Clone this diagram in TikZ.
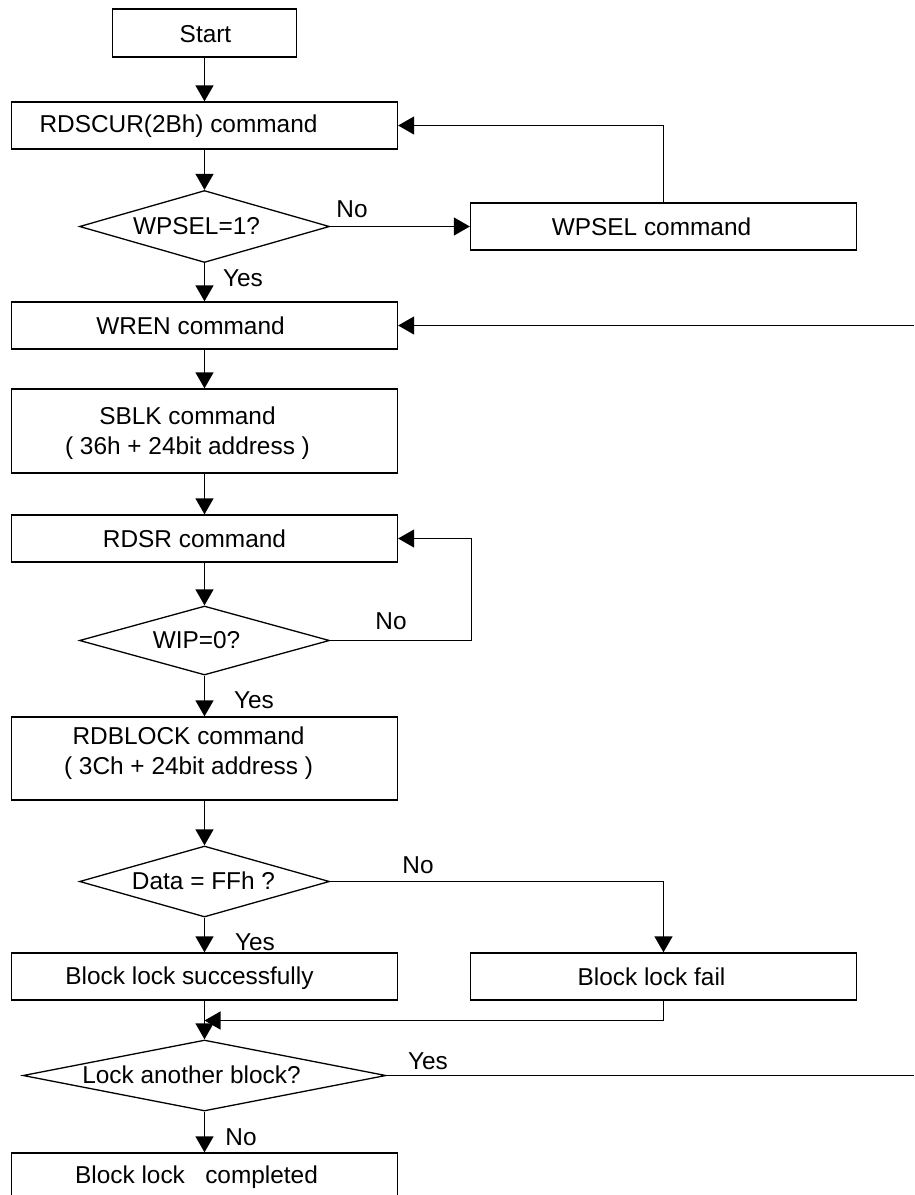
\documentclass[tikz,border=0pt]{standalone}
\usepackage{fontspec}
\setmainfont{Liberation Sans}
\usetikzlibrary{shapes.geometric,arrows.meta}
\tikzset{
  lw/.style={line width=1.3pt},
  box/.style={draw, lw, minimum width=386pt, minimum height=47pt, inner sep=0pt},
  dia/.style={draw, lw, diamond, inner sep=0pt},
  txt/.style={inner sep=0pt, align=center, font=\fontsize{24.4}{30}\selectfont},
  arr/.style={lw, -{Triangle[width=18pt,length=16pt]}},
}
\begin{document}
\begin{tikzpicture}[x=1pt, y=-1pt]
\useasboundingbox (0,0) rectangle (914,1195);
\clip (0,0) rectangle (914,1195);
% nodes
\node[box, minimum width=184pt, minimum height=48pt,
      label={[txt, xshift=1pt, yshift=-1pt]center:Start}] (start) at (204.5,33) {};
\node[box, label={[txt, xshift=-26pt, yshift=-1pt]center:RDSCUR(2Bh) command}] (rdscur) at (204.5,125.5) {};
\node[dia, minimum width=250pt, minimum height=72pt,
      label={[txt, xshift=-8pt]center:WPSEL=1?}] (wpsel) at (204.5,226.5) {};
\node[box, label={[txt, xshift=-12pt]center:WPSEL command}] (wpselcmd) at (663.5,226.5) {};
\node[box, label={[txt, xshift=-14pt]center:WREN command}] (wren) at (204.5,325.5) {};
\node[box, minimum height=84pt,
      label={[txt, xshift=-17pt, yshift=-2pt]center:SBLK command\\( 36h + 24bit address )}] (sblk) at (204.5,431) {};
\node[box, label={[txt, xshift=-10pt]center:RDSR command}] (rdsr) at (204.5,538.5) {};
\node[dia, minimum width=250pt, minimum height=69pt,
      label={[txt, xshift=-8pt]center:WIP=0?}] (wip) at (204.5,640.5) {};
\node[box, minimum height=83pt,
      label={[txt, xshift=-16pt, yshift=5pt]center:RDBLOCK command\\( 3Ch + 24bit address )}] (rdblock) at (204.5,758.5) {};
\node[dia, minimum width=250pt, minimum height=71pt,
      label={[txt, xshift=-1pt, yshift=1pt]center:Data = FFh ?}] (data) at (204.5,881.5) {};
\node[box, label={[txt, xshift=-15pt, yshift=-2pt]center:Block lock successfully}] (succ) at (204.5,976.5) {};
\node[box, label={[txt, xshift=-12pt]center:Block lock fail}] (fail) at (663.5,976.5) {};
\node[dia, minimum width=363pt, minimum height=71pt,
      label={[txt, xshift=-13pt, yshift=1pt]center:Lock another block?}] (lock) at (204.5,1075.5) {};
\node[box, label={[txt, xshift=-8pt, yshift=-0.5pt]center:Block lock\ \ \ completed}] (done) at (204.5,1176.5) {};
% free ends
\coordinate (in1) at (914,325.5);
\coordinate (out1) at (914,1075.5);
\coordinate (wipr) at (471.5,640.5);
\coordinate (merge) at (204.5,1020.5);
% connectors
\draw[arr] (start.south) -- (start.south |- rdscur.north);
\draw[arr] (rdscur.south) -- (rdscur.south |- wpsel.north);
\draw[arr] (wpsel.east) -- (wpselcmd.west);
\draw[arr] (wpselcmd.north) |- (rdscur.east);
\draw[arr] (wpsel.south) -- (wpsel.south |- wren.north);
\draw[arr] (in1) -- (wren.east);
\draw[arr] (wren.south) -- (wren.south |- sblk.north);
\draw[arr] (sblk.south) -- (sblk.south |- rdsr.north);
\draw[arr] (rdsr.south) -- (rdsr.south |- wip.north);
\draw[arr] (wip.east) -- (wipr) |- (rdsr.east);
\draw[arr] (wip.south) -- (wip.south |- rdblock.north);
\draw[arr] (rdblock.south) -- (rdblock.south |- data.north);
\draw[arr] (data.east) -| (fail.north);
\draw[arr] (data.south) -- (data.south |- succ.north);
\draw[arr] (fail.south) |- (merge);
\draw[arr] (succ.south) -- (succ.south |- lock.north);
\draw[lw] (lock.east) -- (out1);
\draw[arr] (lock.south) -- (lock.south |- done.north);
% branch labels
\node[txt] (l1) at (352,209) {No};
\node[txt] (l2) at (243,278) {Yes};
\node[txt] (l3) at (391,621) {No};
\node[txt] (l4) at (254,700) {Yes};
\node[txt] (l5) at (418,865) {No};
\node[txt] (l6) at (255,942) {Yes};
\node[txt] (l7) at (428,1061) {Yes};
\node[txt] (l8) at (241,1137) {No};
\end{tikzpicture}
\end{document}
